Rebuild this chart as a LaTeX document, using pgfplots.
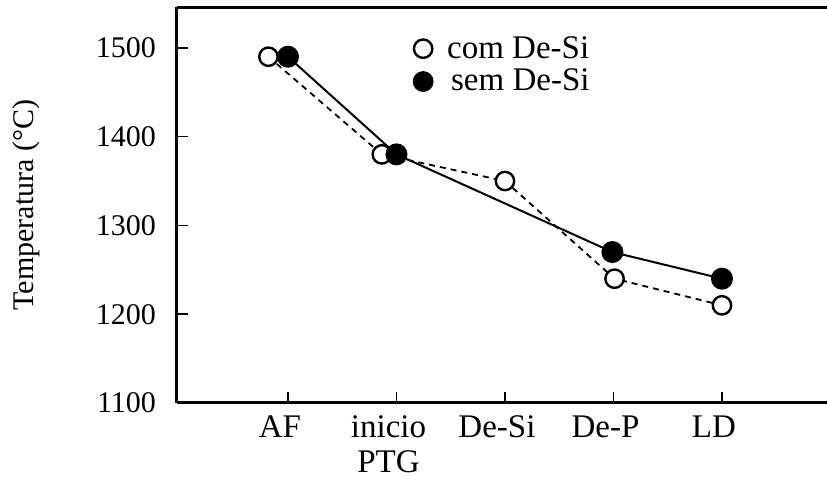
\documentclass[border=0pt]{standalone}
\usepackage{fontspec}
\setmainfont{Liberation Serif}
\usepackage{pgfplots}
\pgfplotsset{compat=1.18}

\begin{document}
\begin{tikzpicture}
\useasboundingbox (-88.5pt,-39pt) rectangle (325pt,201.5pt);
\begin{axis}[
  scale only axis,
  width=325pt, height=198pt,
  xmin=-1.023, xmax=4.968,
  ymin=1100, ymax=1546,
  axis x line*=bottom, axis y line*=left,
  axis line style={line width=1.5pt},
  tick align=inside,
  major tick length=5.5pt,
  tick style={black, line width=0.8pt},
  xtick={0,1,2,3,4},
  xticklabels={AF, inicio\\PTG, De-Si, De-P, LD},
  xticklabel style={align=center, font=\fontsize{16.5}{17.5}\selectfont, yshift=-3pt, xshift=-4pt},
  ytick={1100,1200,1300,1400,1500},
  yticklabel style={font=\fontsize{15}{16}\selectfont, xshift=-7pt},
  /pgf/number format/assume math mode=true,
  /pgf/number format/1000 sep={},
  ylabel={Temperatura (\textdegree C)},
  ylabel style={at={(axis description cs:-0.232,0.5)}, anchor=center,
    font=\fontsize{15}{16}\selectfont},
  legend style={draw=none, fill=none, at={(axis cs:1.15,1518)}, anchor=north west,
    font=\fontsize{16.5}{18}\selectfont, row sep=0pt, inner sep=0pt},
  legend cell align=left,
  clip=false,
]
% top border (no right border in the original)
\draw[line width=1.5pt] (rel axis cs:0,1) -- (rel axis cs:1,1);

% com De-Si (open, dashed)
\addplot[black, line width=0.9pt, dash pattern=on 3pt off 2.5pt,
  mark=*, mark size=4.6pt, mark options={solid, fill=white, draw=black, line width=1.2pt},
  forget plot] coordinates {
  (-0.18,1490)(0.865,1380)(2,1350)(3.01,1240)(4,1210)
};
% sem De-Si (filled, solid)
\addplot[black, line width=1pt, mark=*, mark size=5pt, mark options={fill=black},
  forget plot] coordinates {
  (0,1490)(1,1380)(2.99,1270)(4,1240)
};

\addlegendimage{only marks, mark=*, mark size=4.6pt, mark options={fill=white, draw=black, line width=1.2pt}}
\addlegendentry{\hspace{5pt}com De-Si}
\addlegendimage{only marks, mark=*, mark size=5pt, mark options={fill=black}}
\addlegendentry{\hspace{7pt}sem De-Si}
\end{axis}
\end{tikzpicture}
\end{document}
